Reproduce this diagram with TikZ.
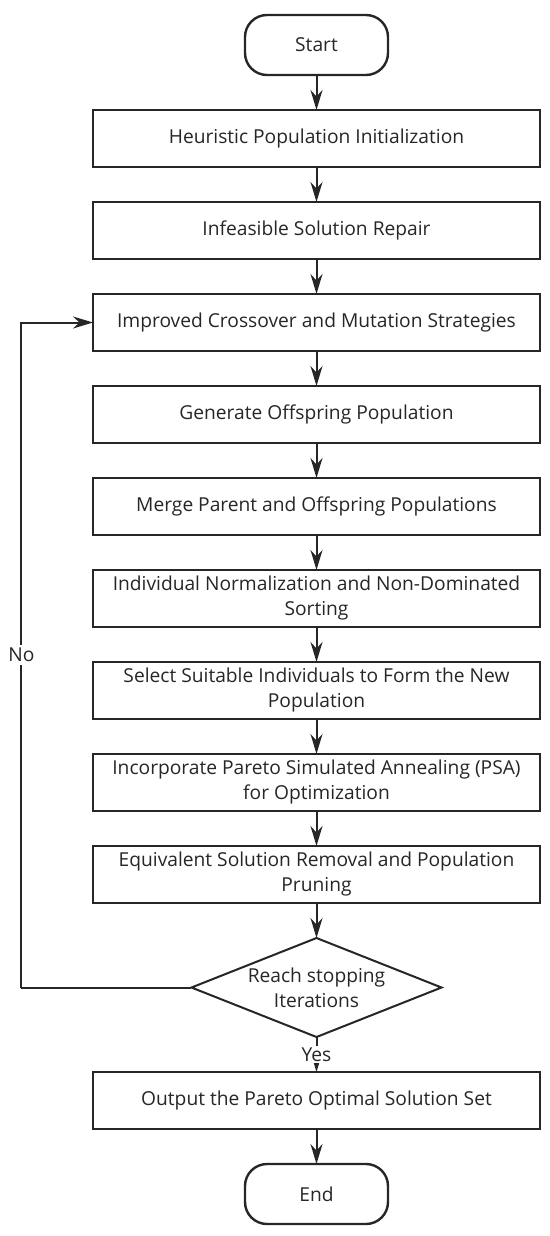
\documentclass[tikz,border=0pt]{standalone}
\usepackage{fontspec}
\setmainfont{Open Sans}
\usepackage{tikz}
\usetikzlibrary{arrows.meta,positioning,shapes.geometric}

\begin{document}
\begin{tikzpicture}[->,>={Stealth[length=10pt,width=6pt]},line width=1pt,
    node distance=17.5pt,
    font=\fontsize{9.6pt}{12.5pt}\selectfont,color=black!85,
    proc/.style={draw,line width=1.2pt,outer sep=0pt,minimum width=223.5pt,
      minimum height=28.5pt,align=center,inner sep=2pt},
    term/.style={draw,line width=1.2pt,outer sep=0pt,rounded corners=11pt,
      minimum width=71.5pt,minimum height=30pt},
    decide/.style={draw,diamond,aspect=2.5,line width=1pt,outer sep=0pt,inner sep=0pt,
      minimum width=125pt,minimum height=49.5pt,align=center}]
  \useasboundingbox (-158.25pt,22.5pt) rectangle (116.75pt,-595.5pt);
  \node[term] (start) at (0,0) {Start};
  \node[proc] (init) [below=of start] {Heuristic Population Initialization};
  \node[proc] (repair) [below=of init] {Infeasible Solution Repair};
  \node[proc] (cross) [below=of repair] {Improved Crossover and Mutation Strategies};
  \node[proc] (offspring) [below=of cross] {Generate Offspring Population};
  \node[proc] (merge) [below=of offspring] {Merge Parent and Offspring Populations};
  \node[proc] (sort) [below=of merge] {Individual Normalization and Non-Dominated\\Sorting};
  \node[proc] (select) [below=of sort] {Select Suitable Individuals to Form the New\\Population};
  \node[proc] (psa) [below=of select] {Incorporate Pareto Simulated Annealing (PSA)\\for Optimization};
  \node[proc] (prune) [below=of psa] {Equivalent Solution Removal and Population\\Pruning};
  \node[decide] (check) [below=of prune] {Reach stopping\\Iterations};
  \node[proc] (output) [below=of check] {Output the Pareto Optimal Solution Set};
  \node[term] (stop) [below=of output] {End};
  \coordinate (back) at ([xshift=-85pt]check.west);
  \path (start) edge (init)
  (init) edge (repair)
  (repair) edge (cross)
  (cross) edge (offspring)
  (offspring) edge (merge)
  (merge) edge (sort)
  (sort) edge (select)
  (select) edge (psa)
  (psa) edge (prune)
  (prune) edge (check)
  (check) edge node[midway,fill=white,inner sep=1pt] {Yes} (output)
  (output) edge (stop);
  \draw[-] (check.west) -- (back);
  \draw (back) |- node[pos=0.25,fill=white,inner sep=1.5pt] {No} (cross.west);
\end{tikzpicture}
\end{document}
